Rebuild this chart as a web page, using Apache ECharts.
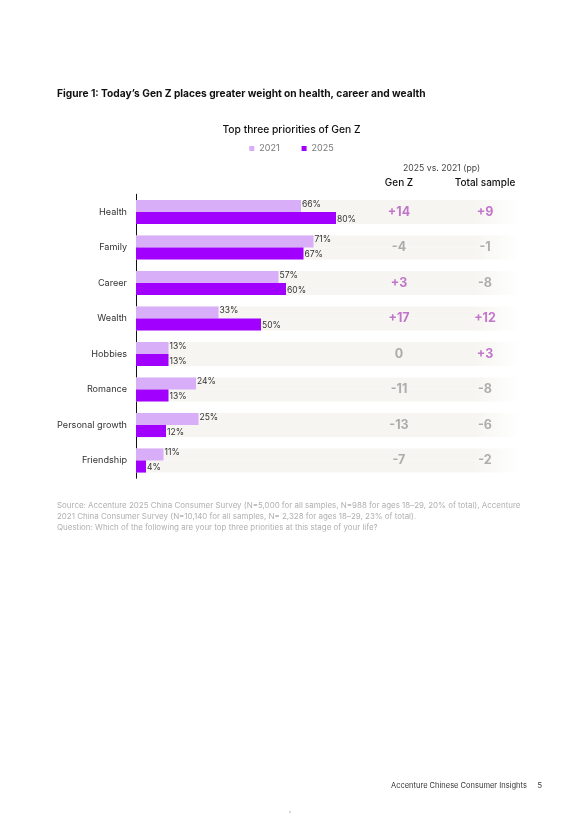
<!DOCTYPE html>
<html>
<head>
<meta charset="utf-8">
<script src="https://cdn.jsdelivr.net/npm/echarts@6/dist/echarts.min.js"></script>
<style>
  html, body { margin: 0; padding: 0; background: #fff; }
  #chart { width: 583px; height: 819px; }
</style>
</head>
<body>
<div id="chart"></div>
<script>
const categories = ['Health', 'Family', 'Career', 'Wealth', 'Hobbies', 'Romance', 'Personal growth', 'Friendship']
const values2021 = [66, 71, 57, 33, 13, 24, 25, 11]
const values2025 = [80, 67, 60, 50, 13, 13, 12, 4]
const diffGenZ = [14, -4, 3, 17, 0, -11, -13, -7]
const diffTotal = [9, -1, -8, 12, 3, -8, -6, -2]
const diffColumns = ['Gen Z', 'Total sample']

const FONT = 'Inter, "Noto Sans", sans-serif'
const LIGHT = '#d9aef9'
const DARK = '#a100ff'

function fmtDiff(v) {
    return v > 0 ? '+' + v : String(v)
}

function bandColor() {
    // row band fades out at its right end
    return new echarts.graphic.LinearGradient(0, 0, 1, 0, [
        { offset: 0, color: '#f6f5f1' },
        { offset: 0.88, color: '#f6f5f1' },
        { offset: 1, color: 'rgba(246,245,241,0)' }
    ])
}

function diffSeries(name, col, arr) {
    return {
        name: name,
        type: 'scatter',
        xAxisIndex: 1,
        yAxisIndex: 1,
        symbolSize: 0,
        silent: true,
        data: arr.map((v, i) => ({
            value: [col, categories[i]],
            label: {
                formatter: fmtDiff(v),
                color: v > 0 ? '#b455c0' : '#9a9a9a'
            }
        })),
        label: {
            show: true,
            position: 'inside',
            fontFamily: FONT,
            fontSize: 12.5,
            fontWeight: 'bold'
        }
    }
}

const chart = echarts.init(document.getElementById('chart'))
chart.setOption({
    animation: false,
    textStyle: { fontFamily: FONT },
    title: [
        {
            text: 'Figure 1: Today\u2019s Gen Z places greater weight on health, career and wealth',
            left: 52,
            top: 84,
            textStyle: { fontSize: 10.2, fontWeight: 'bold', color: '#111', fontFamily: FONT }
        },
        {
            text: 'Top three priorities of Gen Z',
            left: 'center',
            top: 120,
            textStyle: { fontSize: 10.3, fontWeight: 500, color: '#111', fontFamily: FONT }
        }
    ],
    legend: {
        top: 139,
        left: 'center',
        itemWidth: 5,
        itemHeight: 5,
        itemGap: 22,
        icon: 'rect',
        textStyle: { fontSize: 9, color: '#777', fontFamily: FONT },
        data: ['2021', '2025']
    },
    grid: [
        { left: 136, top: 194.25, width: 384, height: 284 },
        { left: 356, top: 194.25, width: 172, height: 284 }
    ],
    xAxis: [
        {
            type: 'value',
            gridIndex: 0,
            min: 0,
            max: 153.6,
            show: false
        },
        {
            type: 'category',
            gridIndex: 1,
            position: 'top',
            data: diffColumns,
            axisLine: { show: false },
            axisTick: { show: false },
            axisLabel: {
                margin: 6,
                fontSize: 10,
                fontWeight: 500,
                color: '#111',
                fontFamily: FONT
            }
        }
    ],
    yAxis: [
        {
            type: 'category',
            gridIndex: 0,
            inverse: true,
            data: categories,
            axisLine: { lineStyle: { color: '#111', width: 1 } },
            axisTick: { show: false },
            axisLabel: { fontSize: 9.1, color: '#333', margin: 9, fontFamily: FONT }
        },
        {
            type: 'category',
            gridIndex: 1,
            inverse: true,
            data: categories,
            show: false
        }
    ],
    series: [
        {
            name: '2021',
            type: 'bar',
            data: values2021,
            barGap: 0,
            barCategoryGap: '32%',
            itemStyle: { color: LIGHT },
            showBackground: true,
            backgroundStyle: { color: bandColor() },
            label: {
                show: true,
                position: 'right',
                distance: 1,
                offset: [0, -2],
                formatter: '{c}%',
                fontSize: 8.5,
                color: '#333',
                fontFamily: FONT
            }
        },
        {
            name: '2025',
            type: 'bar',
            data: values2025,
            itemStyle: { color: DARK },
            showBackground: true,
            backgroundStyle: { color: bandColor() },
            label: {
                show: true,
                position: 'right',
                distance: 1,
                offset: [0, 1],
                formatter: '{c}%',
                fontSize: 8.5,
                color: '#333',
                fontFamily: FONT
            }
        },
        diffSeries('Gen Z diff', 'Gen Z', diffGenZ),
        diffSeries('Total diff', 'Total sample', diffTotal)
    ],
    graphic: [
        {
            type: 'text',
            left: 403,
            top: 164,
            style: { text: '2025 vs. 2021 (pp)', fontSize: 8.7, fill: '#444', fontFamily: FONT }
        },
        {
            type: 'text',
            left: 57,
            top: 500,
            style: {
                text: 'Source: Accenture 2025 China Consumer Survey (N=5,000 for all samples, N=988 for ages 18\u201329, 20% of total), Accenture\n2021 China Consumer Survey (N=10,140 for all samples, N= 2,328 for ages 18\u201329, 23% of total).\nQuestion: Which of the following are your top three priorities at this stage of your life?',
                fontSize: 7.95,
                lineHeight: 11,
                fill: '#b0b0b0',
                fontFamily: FONT
            }
        },
        {
            type: 'text',
            left: 391,
            top: 782,
            style: { text: 'Accenture Chinese Consumer Insights     5', fontSize: 7.5, fill: '#333', fontFamily: FONT }
        },
        {
            type: 'circle',
            shape: { cx: 290, cy: 812, r: 1.2 },
            style: { fill: '#d8d8d8' }
        }
    ]
})
</script>
</body>
</html>
